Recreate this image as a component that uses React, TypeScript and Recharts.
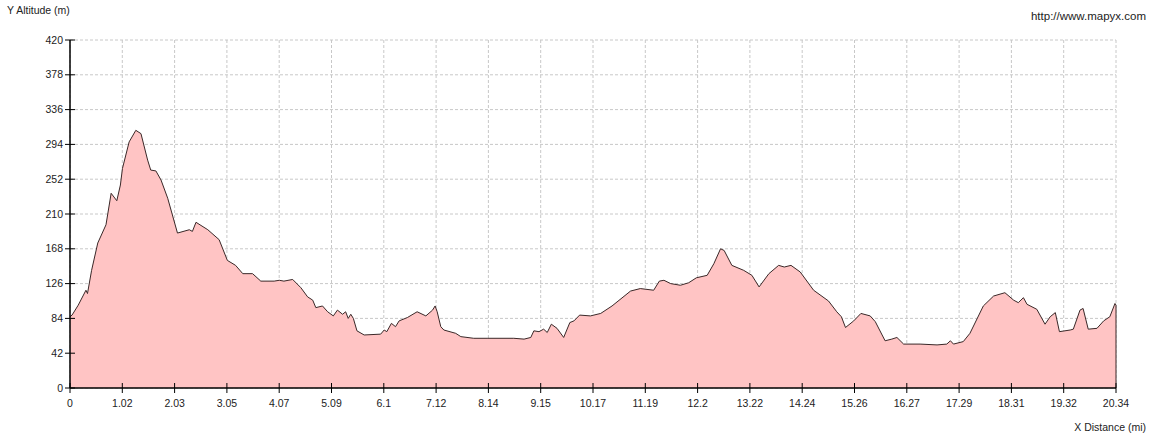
import { Area, AreaChart, CartesianGrid, ReferenceLine, XAxis, YAxis } from "recharts";

const distance = [
  0, 0.04, 0.16, 0.31, 0.34, 0.42, 0.54, 0.7, 0.8, 0.91, 0.98, 1.02, 1.15, 1.28, 1.38, 1.51, 1.57, 1.67,
  1.77, 1.9, 2.09, 2.32, 2.38, 2.45, 2.68, 2.9, 3.06, 3.22, 3.36, 3.55, 3.71, 3.97, 4.07, 4.16, 4.33,
  4.49, 4.62, 4.72, 4.78, 4.91, 5.01, 5.12, 5.2, 5.3, 5.36, 5.41, 5.46, 5.51, 5.58, 5.72, 6.04, 6.11,
  6.16, 6.25, 6.33, 6.4, 6.56, 6.75, 6.92, 7.05, 7.1, 7.14, 7.21, 7.27, 7.5, 7.6, 7.85, 8.11, 8.63,
  8.83, 8.96, 9.02, 9.12, 9.21, 9.28, 9.36, 9.47, 9.6, 9.72, 9.8, 9.91, 10.12, 10.32, 10.54, 10.9,
  11.09, 11.35, 11.46, 11.55, 11.68, 11.87, 12.03, 12.18, 12.39, 12.52, 12.65, 12.72, 12.87, 13.1,
  13.26, 13.4, 13.59, 13.78, 13.89, 14.02, 14.2, 14.46, 14.75, 14.91, 15.0, 15.08, 15.24, 15.38,
  15.56, 15.66, 15.85, 15.98, 16.08, 16.21, 16.53, 16.86, 17.05, 17.12, 17.18, 17.37, 17.5, 17.76,
  17.96, 18.18, 18.35, 18.44, 18.54, 18.61, 18.8, 18.96, 19.06, 19.16, 19.24, 19.45, 19.51, 19.64,
  19.7, 19.8, 19.97, 20.1, 20.22, 20.32, 20.34,
];

const altitude = [
  86, 88, 100, 118, 114, 142, 175, 197, 235, 226, 245, 265, 297, 311, 307, 275, 263, 262,
  251, 229, 187, 191, 189, 200, 191, 179, 154, 148, 138, 138, 129, 129, 130, 129, 131,
  121, 110, 106, 97, 99, 92, 87, 94, 89, 92, 84, 89, 84, 69, 64, 65, 70,
  68, 78, 74, 81, 85, 92, 87, 94, 99, 92, 74, 70, 66, 62, 60, 60, 60,
  59, 61, 69, 68, 71, 67, 77, 72, 61, 79, 81, 88, 87, 90, 99, 117,
  120, 118, 129, 130, 126, 124, 127, 133, 136, 150, 168, 166, 148, 142,
  136, 122, 138, 148, 146, 148, 140, 118, 105, 92, 86, 73, 81, 90,
  87, 80, 57, 59, 61, 53, 53, 52, 53, 57, 53, 56, 66, 99,
  111, 115, 106, 103, 109, 101, 95, 77, 86, 91, 68, 70, 71, 94,
  96, 71, 72, 81, 86, 102, 100,
];

const xTicks = [
  0, 1.017, 2.034, 3.051, 4.068, 5.085, 6.102, 7.119, 8.136, 9.153, 10.17, 11.187, 12.204, 13.221,
  14.238, 15.255, 16.272, 17.289, 18.306, 19.323, 20.34,
];
const xLabels = [
  "0", "1.02", "2.03", "3.05", "4.07", "5.09", "6.1", "7.12", "8.14", "9.15", "10.17", "11.19",
  "12.2", "13.22", "14.24", "15.26", "16.27", "17.29", "18.31", "19.32", "20.34",
];
const yTicks = [0, 42, 84, 126, 168, 210, 252, 294, 336, 378, 420];

const data = distance.map((d, i) => ({ d, alt: altitude[i] }));

const FONT = "Tahoma, 'Liberation Sans', Arial, sans-serif";

const XTick = ({ x, y, payload }: any) => {
  const idx = xTicks.indexOf(payload.value);
  const axisY = y - 7;
  return (
    <g>
      <line x1={x} x2={x} y1={axisY - 5} y2={axisY + 5} stroke="#000" strokeWidth={1} />
      <text x={x} y={axisY + 19} textAnchor="middle" fontSize={10.5} fontFamily={FONT} fill="#222">
        {idx >= 0 ? xLabels[idx] : payload.value}
      </text>
    </g>
  );
};

const YTick = ({ x, y, payload }: any) => {
  const axisX = x + 7;
  return (
    <g>
      <line x1={axisX - 5} x2={axisX + 5} y1={y} y2={y} stroke="#000" strokeWidth={1} />
      <text x={axisX - 7} y={y + 3.5} textAnchor="end" fontSize={10.5} fontFamily={FONT} fill="#222">
        {payload.value}
      </text>
    </g>
  );
};

export default function App() {
  const last = data[data.length - 1];
  return (
    <div style={{ position: "absolute", left: 0, top: 0, width: 1156, height: 439, background: "#fff", fontFamily: FONT }}>
      <div style={{ position: "absolute", left: 7, top: 4, fontSize: 10.5, color: "#222" }}>Y Altitude (m)</div>
      <div style={{ position: "absolute", right: 10, top: 10, fontSize: 11.5, color: "#222" }}>http://www.mapyx.com</div>
      <div style={{ position: "absolute", right: 10, top: 421, fontSize: 10.5, color: "#222" }}>X Distance (mi)</div>
      <AreaChart
        width={1156}
        height={439}
        data={data}
        margin={{ top: 40, right: 40, left: 10, bottom: 21 }}
      >
        <CartesianGrid stroke="#c8c8c8" strokeDasharray="3 2" verticalValues={xTicks} horizontalValues={yTicks} />
        <XAxis
          dataKey="d"
          type="number"
          domain={[0, 20.34]}
          ticks={xTicks}
          interval={0}
          height={30}
          tickSize={5}
          tickMargin={2}
          tickLine={false}
          axisLine={{ stroke: "#000", strokeWidth: 1.5 }}
          tick={<XTick />}
        />
        <YAxis
          type="number"
          domain={[0, 420]}
          ticks={yTicks}
          interval={0}
          width={60}
          tickSize={5}
          tickMargin={2}
          tickLine={false}
          axisLine={{ stroke: "#000", strokeWidth: 1.5 }}
          tick={<YTick />}
        />
        <Area
          type="linear"
          dataKey="alt"
          stroke="#3a2828"
          strokeWidth={1}
          fill="#ffc4c4"
          fillOpacity={1}
          dot={false}
          activeDot={false}
          isAnimationActive={false}
        />
        <ReferenceLine
          segment={[{ x: last.d, y: 0 }, { x: last.d, y: last.alt }]}
          stroke="#3a2828"
          strokeWidth={1}
        />
      </AreaChart>
    </div>
  );
}
